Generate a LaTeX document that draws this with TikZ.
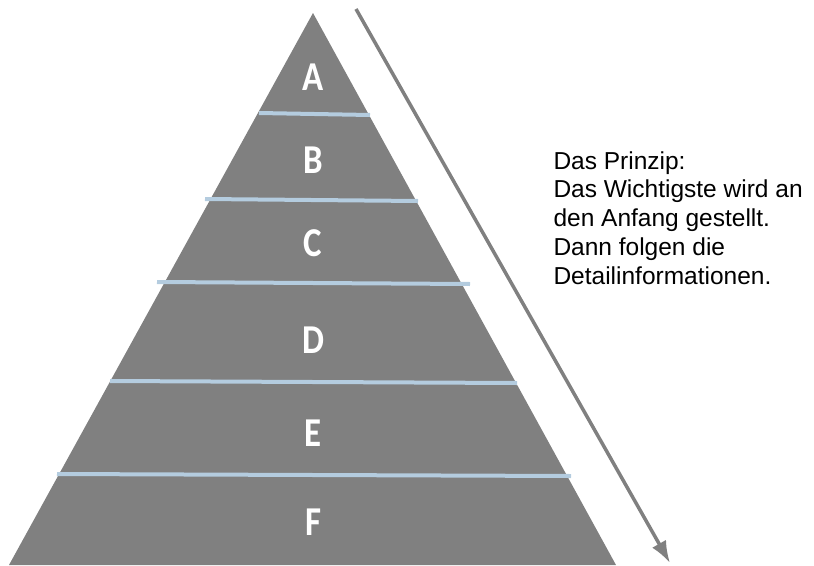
\documentclass[tikz,border=0pt]{standalone}
\usepackage{fontspec}
\usetikzlibrary{arrows.meta}
\setmainfont{Liberation Sans}
\newfontfamily\letterfont[FakeStretch = 0.85]{Carlito}
\definecolor{pyrgray}{HTML}{808080}
\definecolor{sepblue}{HTML}{B4CCDF}
\begin{document}
\begin{tikzpicture}[x = 1pt, y = -1pt, line width = 1pt,
                    level/.style     = {text = white, font = \letterfont\bfseries\fontsize{41}{41}\selectfont, inner sep = 0pt},
                    separator/.style = {draw = sepblue, line width = 4pt},
                    flow/.style      = {draw = pyrgray, line width = 3.5pt, -{Latex[length = 22pt, width = 16pt]}}
                    ]
    \useasboundingbox (0, 0) rectangle (814, 565);

    \coordinate (top)   at (313, 13);
    \coordinate (left)  at (9, 565);
    \coordinate (right) at (616, 565);
    \fill[pyrgray] (top) -- (left) -- (right) -- cycle;

    % separators between the levels
    \coordinate (s1l) at (259, 113); \coordinate (s1r) at (370, 115);
    \coordinate (s2l) at (205, 199); \coordinate (s2r) at (418, 201);
    \coordinate (s3l) at (157, 282); \coordinate (s3r) at (470, 284);
    \coordinate (s4l) at (110, 381); \coordinate (s4r) at (517, 383);
    \coordinate (s5l) at (57, 474);  \coordinate (s5r) at (571, 476);
    \foreach \i in {1, ..., 5}
        \draw[separator] (s\i l) -- (s\i r);

    \node[level] (A) at (313, 77)  {A};
    \node[level] (B) at (313, 160) {B};
    \node[level] (C) at (313, 243) {C};
    \node[level] (D) at (313, 340) {D};
    \node[level] (E) at (313, 433) {E};
    \node[level] (F) at (313, 522) {F};

    \coordinate (start) at (356, 9);
    \coordinate (end)   at (670, 563);
    \draw[flow] (start) -- (end);

    % base of a multi-line node is the last line
    \node[anchor = base west, align = left, inner sep = 0pt,
          font = \fontsize{24.5}{28.75}\selectfont] (prinzip) at (553, 284)
        {Das Prinzip:\\Das Wichtigste wird an\\den Anfang gestellt.\\Dann folgen die\\Detailinformationen.};
\end{tikzpicture}
\end{document}
